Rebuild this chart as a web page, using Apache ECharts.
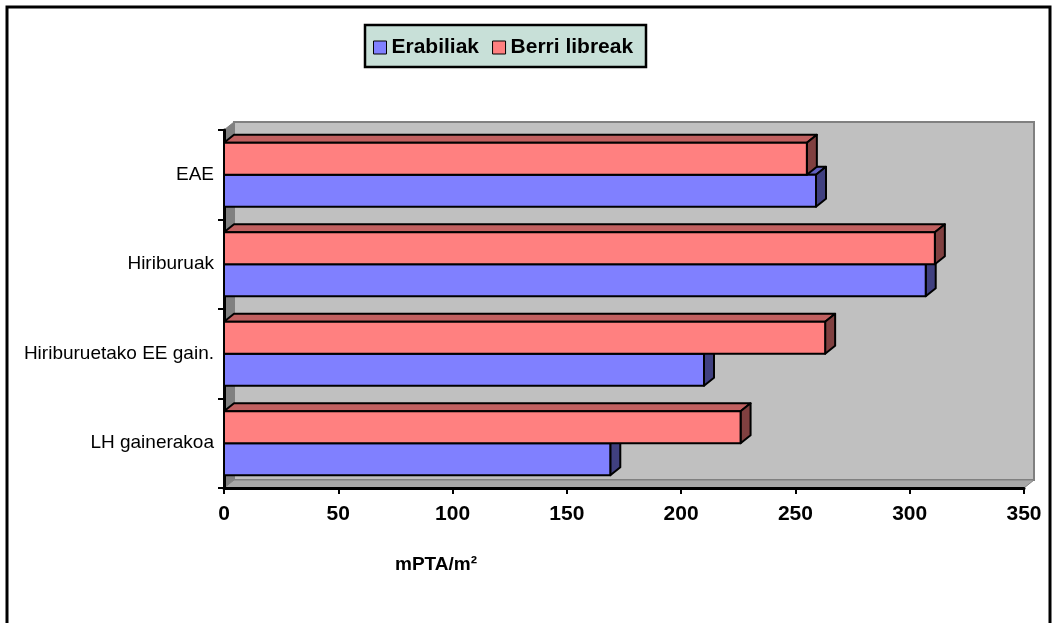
<!DOCTYPE html>
<html>
<head>
<meta charset="utf-8">
<script src="https://cdn.jsdelivr.net/npm/echarts@6/dist/echarts.min.js"></script>
<style>
html,body{margin:0;padding:0;background:#fff;}
#chart{width:1058px;height:623px;}
</style>
</head>
<body>
<div id="chart"></div>
<script>
const categories = ['EAE', 'Hiriburuak', 'Hiriburuetako EE gain.', 'LH gainerakoa'];
const erabiliak = [259, 307, 210, 169];
const berriLibreak = [255, 311, 263, 226];
const seriesNames = ['Erabiliak', 'Berri libreak'];
const axisTitle = 'mPTA/m²';
const xMin = 0, xMax = 350, xStep = 50;

const GL = 224, GR = 1024, GT = 130, GB = 488;
const DX = 10, DY = -8;

function makeRender(isTop, front, top, side) {
  return function (params, api) {
    const v = api.value(0), c = api.value(1);
    const p0 = api.coord([0, c]);
    const p1 = api.coord([v, c]);
    const band = api.size([0, 1])[1];
    const h = band * 0.357;
    const y0 = isTop ? p0[1] - h : p0[1];
    const y1 = y0 + h;
    const x0 = p0[0], x1 = p1[0];
    const st = {stroke: '#000', lineWidth: 2, lineJoin: 'round'};
    return {
      type: 'group',
      children: [
        {type: 'polygon', shape: {points: [[x0, y0], [x0 + DX, y0 + DY], [x1 + DX, y0 + DY], [x1, y0]]},
         style: Object.assign({fill: top}, st)},
        {type: 'polygon', shape: {points: [[x1, y0], [x1 + DX, y0 + DY], [x1 + DX, y1 + DY], [x1, y1]]},
         style: Object.assign({fill: side}, st)},
        {type: 'rect', shape: {x: x0, y: y0, width: x1 - x0, height: h},
         style: Object.assign({fill: front}, st)}
      ]
    };
  };
}

const chart = echarts.init(document.getElementById('chart'), null, {renderer: 'canvas'});
const font = "'Liberation Sans', Arial, sans-serif";

chart.setOption({
  backgroundColor: '#fff',
  animation: false,
  grid: {left: GL, right: 1058 - GR, top: GT, bottom: 623 - GB, containLabel: false},
  xAxis: {
    type: 'value', min: xMin, max: xMax, interval: xStep,
    axisLine: {show: true, lineStyle: {color: '#000', width: 3}},
    axisTick: {show: true, length: 6, lineStyle: {color: '#000', width: 2}},
    splitLine: {show: false},
    axisLabel: {color: '#000', fontFamily: font, fontSize: 21, fontWeight: 'bold', margin: 16}
  },
  yAxis: {
    type: 'category', data: categories, inverse: true,
    axisLine: {show: true, lineStyle: {color: '#000', width: 3}},
    axisTick: {show: true, length: 6, lineStyle: {color: '#000', width: 2}},
    axisLabel: {color: '#000', fontFamily: font, fontSize: 19, margin: 10}
  },
  legend: {
    left: 373, top: 37,
    data: seriesNames,
    icon: 'rect',
    itemWidth: 13, itemHeight: 13, itemGap: 13,
    padding: 0,
    itemStyle: {borderColor: '#000', borderWidth: 1},
    textStyle: {color: '#000', fontFamily: font, fontSize: 21, fontWeight: 'bold', padding: [0, 0, 0, 0]}
  },
  graphic: [
    {type: 'rect', z: -10, shape: {x: 7, y: 7, width: 1043, height: 660}, style: {fill: 'none', stroke: '#000', lineWidth: 3}},
    {type: 'rect', z: -10, shape: {x: GL + DX, y: GT + DY, width: GR - GL, height: GB - GT}, style: {fill: '#C0C0C0', stroke: '#808080', lineWidth: 2}},
    {type: 'polygon', z: -9, shape: {points: [[GL, GT], [GL + DX, GT + DY], [GL + DX, GB + DY], [GL, GB]]}, style: {fill: '#808080', stroke: '#808080', lineWidth: 1}},
    {type: 'polygon', z: -9, shape: {points: [[GL, GB], [GL + DX, GB + DY], [GR + DX, GB + DY], [GR, GB]]}, style: {fill: '#A8A8A8', stroke: '#808080', lineWidth: 1}},
    {type: 'rect', z: -10, shape: {x: 365, y: 25, width: 281, height: 42}, style: {fill: '#C8E0D8', stroke: '#000', lineWidth: 2.5}},
    {type: 'text', z: 10, x: 436, y: 565, style: {text: axisTitle, fill: '#000', font: "bold 19px 'Liberation Sans', Arial, sans-serif", textAlign: 'center', textVerticalAlign: 'middle'}}
  ],
  series: [
    {
      name: seriesNames[0], type: 'custom', clip: false, z: 3,
      itemStyle: {color: '#8080FF'},
      encode: {x: 0, y: 1},
      renderItem: makeRender(false, '#8080FF', '#6060C0', '#404080'),
      data: erabiliak.map((v, i) => [v, i])
    },
    {
      name: seriesNames[1], type: 'custom', clip: false, z: 4,
      itemStyle: {color: '#FF8080'},
      encode: {x: 0, y: 1},
      renderItem: makeRender(true, '#FF8080', '#C06060', '#804040'),
      data: berriLibreak.map((v, i) => [v, i])
    }
  ]
});
</script>
</body>
</html>
